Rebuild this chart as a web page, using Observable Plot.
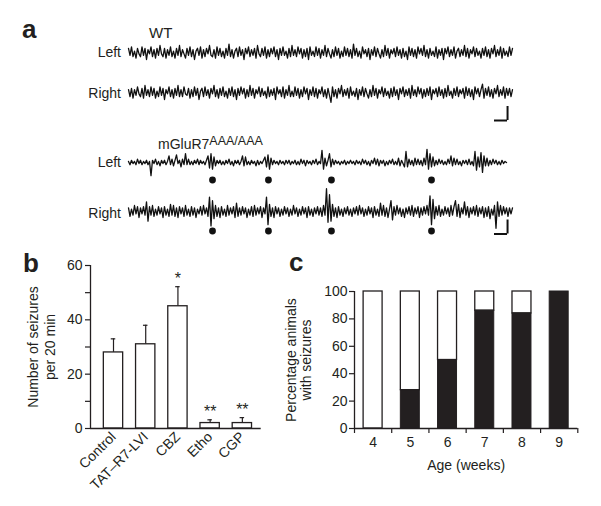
<!DOCTYPE html>
<html><head><meta charset="utf-8">
<script src="https://cdn.jsdelivr.net/npm/d3@7"></script>
<script src="https://cdn.jsdelivr.net/npm/@observablehq/plot@0.6"></script>
<style>
body{margin:0;background:#fff;}
#fig{position:relative;width:601px;height:506px;overflow:hidden;background:#fff;font-family:"Liberation Sans",Arial,Helvetica,sans-serif;color:#231f20;}
.abs{position:absolute;line-height:1;white-space:nowrap;}
svg{overflow:visible;}
</style></head><body><div id="fig"></div><script>
// ---- Panel a: EEG traces (sample index, arbitrary amplitude units) ----
const wtLeft = [
3,-2,4,-3,1,-4,3,-1,-3,4,-2,3,-5,2,-1,4,
-3,2,-4,3,-2,5,-1,-3,3,-4,2,-2,4,-3,1,-4,
3,-2,5,-3,2,-1,-4,3,-2,4,-3,2,-5,1,3,-2,
4,-4,2,-3,3,-1,5,-2,-3,2,-4,4,-2,3,-3,1,
-4,3,-2,6,-3,2,-4,1,3,-3,4,-2,2,-5,3,-1,
4,-3,2,-2,3,-4,5,-1,-3,3,-2,4,-4,2,-3,3,
-1,4,-3,2,-5,3,-2,4,-2,1,-4,3,-3,5,-2,2,
-3,4,-1,3,-4,2,-3,3,-5,4,-2,1,-3,4,-2,3,
-4,2,-2,5,-3,3,-1,-4,2,-3,4,-2,3,-4,1,-3,
4,-2,3,-3,2,-4,6,-2,3,-3,1,-4,4,-1,2,-3,
3,-5,2,-2,4,-3,3,-1,-4,2,-3,5,-2,3,-4,2,
-1,3,-3,4,-2,2,-4,3,-3,1,-5,4,-2,3,-3,2,
-4,4,-1,3,-2,5,-3,2,-4,3,-2,1,-3,4,-4,2,
-2,3,-5,3,-1,4,-3,2,-2,4,-4,1,3,-3,2,-2,
5,-3,3,-4,2,-1,4,-3,3,-2,1,-4,3,-2,4,-3,
2,-4,3,-1,5,-3,2,-2,4,-4,3,-2,1,-3,4,-2,
3];
const wtRight = [
2,-3,3,-4,2,-2,4,-1,-3,3,-4,5,-2,2,-3,4,
-2,3,-4,1,-3,4,-2,3,-5,2,-1,4,-3,2,-4,3,
-2,5,-3,2,-3,4,-1,-2,3,-4,2,-3,4,-2,3,-5,
1,3,-3,4,-2,2,-4,3,-1,5,-3,2,-4,3,-2,4,
-3,1,-4,3,-2,4,-3,2,-5,3,-2,4,-1,3,-4,2,
-3,5,-2,3,-4,2,-1,4,-3,3,-2,1,-4,4,-3,2,
-2,3,-5,4,-1,2,-3,4,-4,2,-2,5,-3,1,-3,4,
-2,3,-4,2,-3,4,-1,3,-5,2,-2,4,-3,3,-4,2,
-1,4,-3,2,-4,3,-2,-7,4,-3,2,-4,3,-1,5,-3,
2,-2,3,-4,4,-2,1,-3,3,-5,2,-2,4,-3,3,-1,
-4,2,-3,5,-2,3,-4,2,-1,4,-3,3,-2,1,-4,3,
-3,4,-2,2,-5,3,-1,4,-3,2,-2,3,-4,5,-2,2,
-3,4,-1,3,-4,2,-3,3,-2,4,-5,2,-1,3,-3,4,
-2,2,-4,3,-3,5,-2,1,-4,3,-2,4,-3,2,-1,3,
-4,4,-2,3,-3,2,-5,4,-1,3,-3,2,6,-4,3,-2,
4,-3,2,-4,3,-1,5,-3,2,-2,4,-4,3,-2,3,-3,
2];
const koLeft = [
1,-2,2,-1,1,-2,3,-1,2,-2,1,-1,2,-2,1,-12,
2,-1,3,-2,1,-3,2,-1,2,-2,1,6,-2,3,-3,2,
7,-1,2,-4,3,-2,8,-2,3,-2,1,-2,2,-1,3,-2,
2,-1,1,-2,2,6,-5,8,-6,5,-3,2,-1,2,-2,1,
-2,2,-1,3,-2,1,-3,2,-1,2,-2,1,6,-3,5,-2,
1,-2,2,-1,1,-3,2,-2,1,-1,2,5,-4,7,-6,4,
-2,2,-1,1,-2,2,-1,1,-2,2,-1,2,-2,1,-1,2,
-2,1,-2,3,-1,2,-3,2,-1,1,-2,2,-1,3,-2,1,
-1,11,-6,4,-3,2,8,-4,3,-2,2,-1,1,-2,1,-1,
2,-2,1,-1,2,-1,1,-2,2,-1,1,-2,3,-1,2,-2,
1,-3,2,-1,4,-2,3,-3,2,-1,2,-3,1,-2,2,-1,
3,-2,1,-2,4,-3,2,-1,-4,10,-4,3,-2,2,-3,4,
-2,3,-2,2,-3,4,-2,12,-6,8,-4,5,-3,2,-2,3,
-1,2,-2,1,-2,3,-1,6,-3,4,-2,3,-2,1,-3,2,
-1,2,-2,3,-2,1,-3,10,-7,5,-4,9,-9,6,-3,4,
-3,2,-2,3,-1,2,-2,1,-2,2,-1,1,0];
const koRight = [
3,-4,2,-3,5,-2,4,-5,3,-2,4,-3,8,-8,4,-3,
5,-4,2,-3,4,-2,3,-5,4,-3,2,-4,6,-3,5,-4,
3,-5,4,-2,3,-4,5,-3,2,-4,4,-3,3,-5,2,-2,
4,-3,5,-2,3,-4,12,-12,9,-6,5,-4,3,-5,4,-3,
2,-4,5,-3,3,-2,4,-5,7,-4,3,-3,4,-2,3,-5,
2,-3,4,-4,5,-3,3,-2,4,-5,3,-2,12,-11,6,-4,
3,-5,4,-2,3,-4,2,-3,4,-2,3,-4,2,-3,5,-2,
3,-4,2,-3,4,-2,3,-5,4,-3,2,-4,3,-2,4,-3,
3,-4,5,-3,19,-9,14,-8,6,-4,3,-5,4,-3,2,-4,
3,-2,4,-3,2,-4,3,-2,4,-3,5,-2,3,-4,2,-3,
4,-2,3,-5,4,-3,2,-4,7,-3,5,-4,3,-5,2,9,
-7,4,-3,5,-2,3,-4,2,-5,3,-2,4,-3,5,-4,3,
-2,4,-5,3,-3,4,-2,5,-3,13,-11,10,-6,4,-3,5,
-4,2,-3,4,-2,3,-4,5,-3,4,9,-4,6,-5,3,-2,
8,-3,4,-5,3,-2,4,-3,5,-4,3,-2,4,-5,3,-4,
4,-6,2,-3,5,-14,8,-4,5,-3,4,-2,3,-4,3,-2,
3];
const seizureMarks = [56, 93.3, 135.3, 202];         // sample index of seizure events
const scaleBarTime = [244, 252.7];                   // samples
const scaleBarWT = [-14, -28];                       // px below trace baseline
const scaleBarKO = [-8.5, -22.5];

// ---- Panel b ----
const treatments = ["Control", "TAT–R7-LVI", "CBZ", "Etho", "CGP"];
const seizureMean = [28, 31, 45, 2, 2];
const seizureSem = [5, 7, 7.2, 1.2, 2];
const significance = ["", "", "*", "**", "**"];
const seizureTicks = [0, 10, 20, 30, 40, 50, 60];

// ---- Panel c ----
const ages = [4, 5, 6, 7, 8, 9];
const pctWithSeizures = [0, 28, 50, 86, 84, 100];
const pctTicks = [0, 20, 40, 60, 80, 100];

const ink = "#231f20";
const font = '"Liberation Sans", Arial, Helvetica, sans-serif';
const fig = document.getElementById("fig");

function place(node, left, top, width) {
  const d = document.createElement("div");
  d.className = "abs";
  d.style.left = left + "px"; d.style.top = top + "px";
  if (width) d.style.width = width + "px";
  d.append(node); fig.append(d); return d;
}
function html(str, css) {
  const d = document.createElement("div");
  d.className = "abs";
  d.innerHTML = str;
  Object.assign(d.style, css);
  fig.append(d); return d;
}

// text labels
html("a", {left: "22px", top: "16px", fontSize: "26px", fontWeight: "bold"});
html("b", {left: "23px", top: "250px", fontSize: "26px", fontWeight: "bold"});
html("c", {left: "289px", top: "249px", fontSize: "26px", fontWeight: "bold"});
html("WT", {left: "149px", top: "25.3px", fontSize: "15px"});
html('mGluR7<span style="font-size:12.5px;position:relative;top:-4px">AAA/AAA</span>', {left: "158px", top: "136.5px", fontSize: "14px"});
html("Left", {right: "480px", top: "45.4px", fontSize: "14px"});
html("Right", {right: "480px", top: "85.5px", fontSize: "14px"});
html("Left", {right: "480px", top: "154.9px", fontSize: "14px"});
html("Right", {right: "480px", top: "205.5px", fontSize: "14px"});

// geometry in px relative to the trace baseline; gain = px per amplitude unit
function trace(values, {center, lo, hi, gain, dotRow, bar}) {
  const data = values.map((v, i) => ({t: i, v}));
  const marks = [Plot.line(data, {x: "t", y: "v", stroke: "#111", strokeWidth: 1.3})];
  if (dotRow !== undefined) marks.push(Plot.dot(seizureMarks, {x: d => d, y: () => dotRow / gain, r: 3.4, fill: "#111", stroke: "none"}));
  if (bar) {
    marks.push(
      Plot.ruleX([scaleBarTime[1]], {y1: bar[0] / gain, y2: bar[1] / gain, stroke: "#111", strokeWidth: 2}),
      Plot.ruleY([bar[1] / gain], {x1: scaleBarTime[0], x2: scaleBarTime[1], stroke: "#111", strokeWidth: 2})
    );
  }
  const p = Plot.plot({
    width: 384, height: hi - lo, margin: 0,
    x: {domain: [0, 256], axis: null},
    y: {domain: [lo / gain, hi / gain], axis: null},
    style: {background: "transparent", overflow: "visible"},
    marks
  });
  place(p, 128, center - hi, 384);
}
trace(wtLeft, {center: 51.5, lo: -14, hi: 14, gain: 1.4});
trace(wtRight, {center: 92, lo: -30, hi: 14, gain: 1.4, bar: scaleBarWT});
trace(koLeft, {center: 161.5, lo: -22, hi: 16, gain: 1.1, dotRow: -17.5});
trace(koRight, {center: 210.5, lo: -30, hi: 25, gain: 1.2, dotRow: -19.5, bar: scaleBarKO});

// ---- Panel b plot ----
const bData = treatments.map((name, i) => ({i, name, mean: seizureMean[i], top: seizureMean[i] + seizureSem[i], sig: significance[i]}));
const bx = [-0.714, 4.585];
const pb = Plot.plot({
  width: 265, height: 263, marginLeft: 90, marginRight: 4.3, marginTop: 25, marginBottom: 75,
  x: {domain: bx, axis: null},
  y: {domain: [0, 60], axis: null},
  style: {background: "transparent", fontFamily: font, fontSize: "14px", color: ink, overflow: "visible"},
  marks: [
    Plot.ruleX(bData, {x: "i", y1: "mean", y2: "top", stroke: ink, strokeWidth: 1.2}),
    Plot.ruleY(bData, {y: "top", x1: d => d.i - 0.07, x2: d => d.i + 0.07, stroke: ink, strokeWidth: 1.2}),
    Plot.rect(bData, {x1: d => d.i - 0.3, x2: d => d.i + 0.3, y1: 0, y2: "mean", fill: "white", stroke: ink, strokeWidth: 1.3}),
    Plot.text(bData, {x: "i", y: "top", text: "sig", dy: -8, fontSize: 16}),
    Plot.ruleY([0], {stroke: ink, strokeWidth: 1.3}),
    Plot.ruleX([bx[0]], {stroke: ink, strokeWidth: 1.3}),
    Plot.axisY({ticks: seizureTicks, tickFormat: d => d % 20 ? "" : String(d), tickSize: 5, tickPadding: 3, fontSize: 14, strokeWidth: 1.2, label: null}),
    Plot.axisX({ticks: bData.map(d => d.i), tickFormat: i => treatments[i], tickSize: 0, tickRotate: -45, tickPadding: 6, fontSize: 14, label: null}),
    Plot.text(["Number of seizures\nper 20 min"], {text: d => d, frameAnchor: "left", textAnchor: "middle", rotate: -90, dx: -49, fontSize: 14, lineHeight: 1.2})
  ]
});
place(pb, 0, 240, 265);

// ---- Panel c plot ----
const cData = ages.map((a, i) => ({age: a, pct: pctWithSeizures[i]}));
const half = 0.255;
const pc = Plot.plot({
  width: 320, height: 235, marginLeft: 84, marginRight: 12.7, marginTop: 41, marginBottom: 57,
  x: {domain: [3.5, 9.5], axis: null},
  y: {domain: [0, 100], axis: null},
  style: {background: "transparent", fontFamily: font, fontSize: "14px", color: ink, overflow: "visible"},
  marks: [
    Plot.rect(cData, {x1: d => d.age - half, x2: d => d.age + half, y1: "pct", y2: 100, fill: "white", stroke: ink, strokeWidth: 1.3}),
    Plot.rect(cData, {x1: d => d.age - half, x2: d => d.age + half, y1: 0, y2: "pct", fill: ink, stroke: ink, strokeWidth: 1}),
    Plot.ruleY([0], {stroke: ink, strokeWidth: 1.3}),
    Plot.ruleX([3.5], {stroke: ink, strokeWidth: 1.3}),
    Plot.axisY({ticks: pctTicks, tickFormat: d => String(d), tickSize: 5, tickPadding: 2, fontSize: 14, strokeWidth: 1.2, label: null}),
    Plot.axisX({ticks: ages.map(a => a - 0.5).concat([ages[ages.length - 1] + 0.5]), tickFormat: () => "", tickSize: 5, strokeWidth: 1.2, label: null}),
    Plot.axisX({ticks: ages, tickFormat: d => String(d), tickSize: 0, tickPadding: 9, fontSize: 14, label: null}),
    Plot.text(["Age (weeks)"], {text: d => d, frameAnchor: "bottom", dy: 41, fontSize: 14}),
    Plot.text(["Percentage animals\nwith seizures"], {text: d => d, frameAnchor: "left", textAnchor: "middle", rotate: -90, dx: -56, fontSize: 14, lineHeight: 1.05})
  ]
});
place(pc, 270, 250, 320);
</script></body></html>
